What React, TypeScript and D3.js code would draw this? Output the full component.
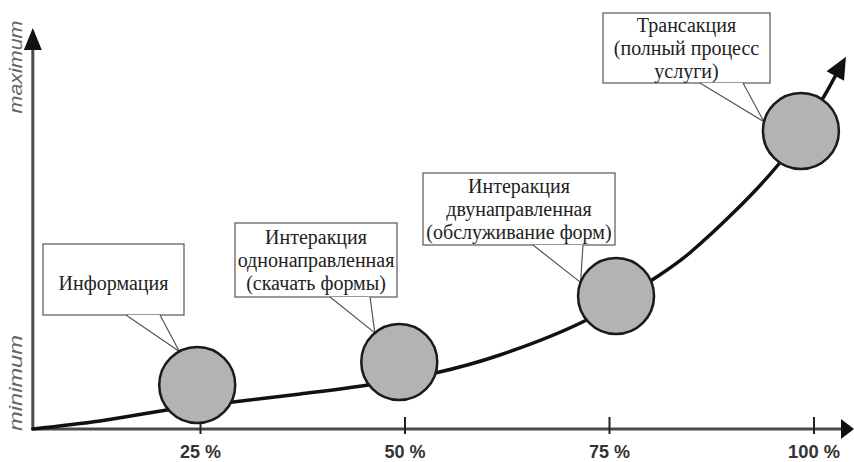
import React from "react";
import * as d3 from "d3";

// curve of service maturity (x: % of process, y: relative level 0..100)
const curvePct = [4.5, 12.7, 20.9, 29, 37.2, 45.5, 53.7, 61.6, 72.2, 80.2, 84.8, 95.6, 101.1, 102.6];
const curveLevel = [0, 2, 4.75, 6.75, 8.75, 11, 14, 18.5, 27.25, 37.25, 44, 66, 82.75, 88.25];

// stages on the curve
const stagePct = [24.6, 49.3, 75.8, 98.4];
const stageLevel = [11, 16.75, 33.25, 74.5];
const stageLabels = [
  ["Информация"],
  ["Интеракция", "однонаправленная", "(скачать формы)"],
  ["Интеракция", "двунаправленная", "(обслуживание форм)"],
  ["Трансакция", "(полный процесс", "услуги)"],
];

const tickValues = [25, 50, 75, 100];
const tickLabels = ["25 %", "50 %", "75 %", "100 %"];

// callout box layout (pixels) and pointer angle on the circle (degrees)
const callouts = [
  { x: 43, y: 244, w: 141, h: 71, p1: 126, p2: 160, angle: -118 },
  { x: 235, y: 223, w: 162, h: 74, p1: 330, p2: 370, angle: -130 },
  { x: 423, y: 173, w: 192, h: 72, p1: 533, p2: 583, angle: -159 },
  { x: 603, y: 13, w: 167, h: 70, p1: 700, p2: 743, angle: -166 },
];

const W = 854;
const H = 462;
const R = 38;

const serif = { fontFamily: "'Liberation Serif', 'Times New Roman', 'DejaVu Serif', serif" };
const sans = { fontFamily: "'Liberation Sans', Arial, sans-serif" };

export default function App() {
  const x = d3.scaleLinear().domain([0, 100]).range([-4, 814]);
  const y = d3.scaleLinear().domain([0, 100]).range([429, 29]);

  const x0 = x(4.5);
  const y0 = y(0);

  const pts: [number, number][] = curvePct.map((p, i) => [x(p), y(curveLevel[i])]);
  const line = d3.line().curve(d3.curveCatmullRom.alpha(0.5));

  // arrow head at end of curve
  const [ax, ay] = pts[pts.length - 1];
  const [bx, by] = pts[pts.length - 2];
  const ang = Math.atan2(ay - by, ax - bx);
  const len = 22, half = 10;
  const tipX = ax + Math.cos(ang) * len;
  const tipY = ay + Math.sin(ang) * len;
  const nx = -Math.sin(ang), ny = Math.cos(ang);
  const arrow = `M${tipX},${tipY}L${ax + nx * half},${ay + ny * half}L${ax - nx * half},${ay - ny * half}Z`;

  const axisColor = "#4a4a4a";

  return (
    <svg width={W} height={H} style={{ position: "absolute", left: 0, top: 0, background: "#fff" }}>
      {/* axis titles */}
      <text
        transform={`translate(22,67) rotate(-90)`}
        textAnchor="middle"
        style={sans}
        fontStyle="italic"
        fontSize={19}
        fill="#666"
        textLength={93}
        lengthAdjust="spacingAndGlyphs"
      >
        maximum
      </text>
      <text
        transform={`translate(22,383) rotate(-90)`}
        textAnchor="middle"
        style={sans}
        fontStyle="italic"
        fontSize={19}
        fill="#666"
        textLength={96}
        lengthAdjust="spacingAndGlyphs"
      >
        minimum
      </text>

      {/* y axis */}
      <line x1={x0} y1={y0 + 1} x2={x0} y2={48} stroke={axisColor} strokeWidth={3} />
      <path d={`M${x0},28L${x0 - 9},50L${x0 + 9},50Z`} fill="#111" />

      {/* x axis */}
      <line x1={x0} y1={y0} x2={842} y2={y0} stroke={axisColor} strokeWidth={3} />
      <path d={`M854,${y0}L841,${y0 - 10}L841,${y0 + 10}Z`} fill="#111" />

      {/* curve */}
      <path d={line(pts) ?? ""} fill="none" stroke="#111" strokeWidth={3.5} strokeLinecap="round" />
      <path d={arrow} fill="#111" />

      {/* ticks */}
      {tickValues.map((t, i) => (
        <g key={t}>
          <line x1={x(t)} x2={x(t)} y1={y0 - 12} y2={y0 + 5} stroke="#222" strokeWidth={2} />
          <text
            x={x(t)}
            y={458}
            textAnchor="middle"
            style={sans}
            fontWeight="bold"
            fontSize={18}
            fill="#333"
            textLength={t === 100 ? 52 : 41}
            lengthAdjust="spacingAndGlyphs"
          >
            {tickLabels[i]}
          </text>
        </g>
      ))}

      {/* callouts */}
      {callouts.map((c, i) => {
        const cx = x(stagePct[i]);
        const cy = y(stageLevel[i]);
        const a = (c.angle * Math.PI) / 180;
        const tx = cx + Math.cos(a) * R;
        const ty = cy + Math.sin(a) * R;
        const lines = stageLabels[i];
        const mid = c.y + c.h / 2 + (lines.length === 1 ? 3 : 0);
        return (
          <g key={i}>
            <rect x={c.x} y={c.y} width={c.w} height={c.h} fill="#fff" stroke="#555" strokeWidth={1.2} />
            <path d={`M${c.p1},${c.y + c.h}L${tx},${ty}L${c.p2},${c.y + c.h}`} fill="#fff" stroke="#555" strokeWidth={1.2} />
            {lines.map((s, j) => (
              <text
                key={j}
                x={c.x + c.w / 2}
                y={mid + (j - (lines.length - 1) / 2) * 23}
                dominantBaseline="central"
                textAnchor="middle"
                style={serif}
                fontSize={20}
                fill="#222"
              >
                {s}
              </text>
            ))}
          </g>
        );
      })}

      {/* stage circles */}
      {stagePct.map((p, i) => (
        <circle key={i} cx={x(p)} cy={y(stageLevel[i])} r={R} fill="#b3b3b3" stroke="#1a1a1a" strokeWidth={2.5} />
      ))}
    </svg>
  );
}
